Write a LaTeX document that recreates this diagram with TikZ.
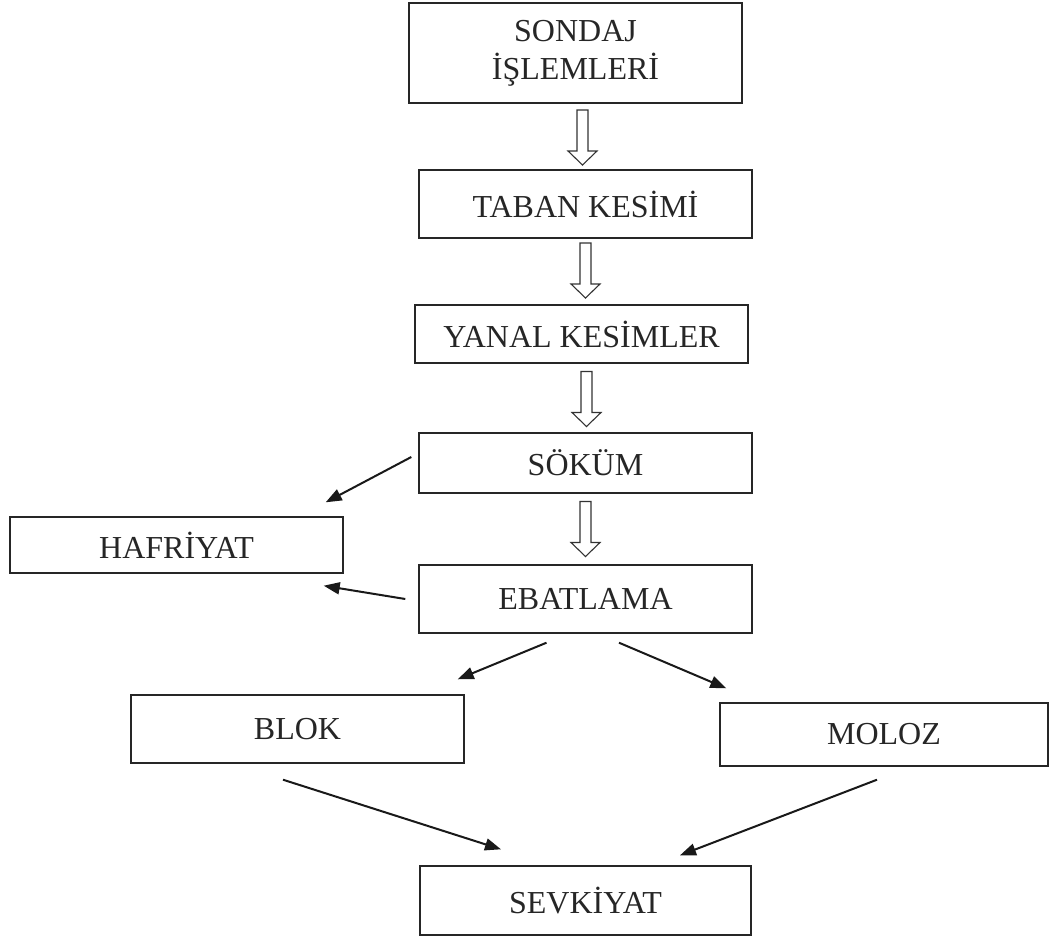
\documentclass[tikz,border=0pt]{standalone}
\usepackage{fontspec}
\setmainfont{Liberation Serif}
\usetikzlibrary{arrows.meta,calc}
\begin{document}
\begin{tikzpicture}[x=1pt,y=-1pt,
  box/.style={draw=black!85, line width=1.4pt, rectangle, inner sep=0pt,
    font=\fontsize{32}{38}\selectfont, text=black!85, align=center},
  arr/.style={draw=black!90, line width=2pt, -{Triangle[length=16pt,width=12pt]}},
  hollowdown/.pic={\draw[draw=black!80, line width=1.1pt, fill=white]
    (-5.5,-27.5) -- (5.5,-27.5) -- (5.5,13.5) -- (14.5,13.5) -- (0,27.5)
    -- (-14.5,13.5) -- (-5.5,13.5) -- cycle;}]
\useasboundingbox[fill=white] (0,0) rectangle (1049,937);

\node[box, minimum width=333pt, minimum height=100pt] (sondaj) at (575.5,53) {SONDAJ\\İŞLEMLERİ};
\node[box, minimum width=333pt, minimum height=68pt] (taban) at (585.5,204) {TABAN KESİMİ};
\node[box, minimum width=333pt, minimum height=58pt] (yanal) at (581.5,334) {YANAL KESİMLER};
\node[box, minimum width=333pt, minimum height=60pt] (sokum) at (585.5,463) {SÖKÜM};
\node[box, minimum width=333pt, minimum height=68pt] (ebat) at (585.5,599) {EBATLAMA};
\node[box, minimum width=333pt, minimum height=56pt] (hafriyat) at (176.5,545) {HAFRİYAT};
\node[box, minimum width=333pt, minimum height=68pt] (blok) at (297.5,729) {BLOK};
\node[box, minimum width=328pt, minimum height=63pt] (moloz) at (884,734.5) {MOLOZ};
\node[box, minimum width=331pt, minimum height=69pt] (sevk) at (585.5,900.5) {SEVKİYAT};

% hollow down arrows
\path ($(sondaj.south)!0.5!(taban.north)$) ++(2,1) pic {hollowdown};
\path ($(taban.south)!0.5!(yanal.north)$) ++(2,-1) pic {hollowdown};
\path ($(yanal.south)!0.5!(sokum.north)$) ++(3,1) pic {hollowdown};
\path ($(sokum.south)!0.5!(ebat.north)$) ++(0,0) pic {hollowdown};

% diagonal connectors
\draw[arr] ($(sokum.west)+(-7,-6)$) -- ($(hafriyat.north east)+(-18,-14)$);
\draw[arr] ($(ebat.west)+(-13,0)$) -- ($(hafriyat.south east)+(-20,12)$);
\draw[arr] ($(ebat.south)+(-39,9)$) -- ($(blok.north east)+(-7,-15)$);
\draw[arr] ($(ebat.south)+(33.5,9)$) -- ($(moloz.north west)+(7,-14)$);
\draw[arr] ($(blok.south)+(-14.5,16)$) -- ($(sevk.north)+(-84.5,-16)$);
\draw[arr] ($(moloz.south)+(-7,13)$) -- ($(sevk.north)+(94.5,-10)$);
\end{tikzpicture}
\end{document}
